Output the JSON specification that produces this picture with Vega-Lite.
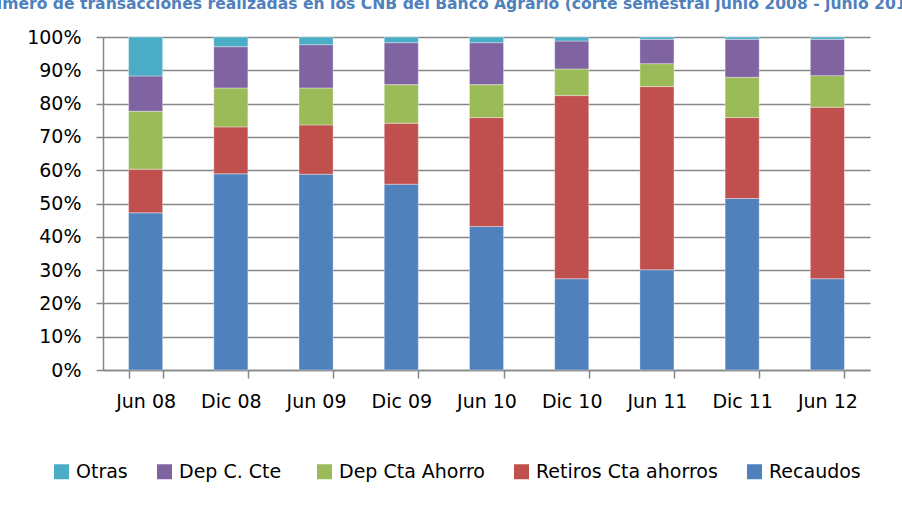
{
  "$schema": "https://vega.github.io/schema/vega-lite/v6.json",
  "autosize": {"type": "none"},
  "padding": {"left": 103, "top": 37, "right": 32, "bottom": 140},
  "width": 767,
  "height": 333,
  "background": "#ffffff",
  "title": {
    "text": "Número de transacciones realizadas en los CNB del Banco Agrario (corte semestral junio 2008 - junio 2012)",
    "anchor": "start",
    "frame": "group",
    "dx": -125,
    "offset": 0,
    "baseline": "bottom",
    "font": "DejaVu Sans",
    "fontSize": 15.6,
    "fontWeight": "bold",
    "color": "#4F81BD"
  },
  "data": {
    "values": [
      {"periodo": "Jun 08", "serie": "Recaudos", "valor": 47.2},
      {"periodo": "Jun 08", "serie": "Retiros Cta ahorros", "valor": 13.1},
      {"periodo": "Jun 08", "serie": "Dep Cta Ahorro", "valor": 17.4},
      {"periodo": "Jun 08", "serie": "Dep  C. Cte", "valor": 10.6},
      {"periodo": "Jun 08", "serie": "Otras", "valor": 11.7},
      {"periodo": "Dic 08", "serie": "Recaudos", "valor": 58.9},
      {"periodo": "Dic 08", "serie": "Retiros Cta ahorros", "valor": 14.1},
      {"periodo": "Dic 08", "serie": "Dep Cta Ahorro", "valor": 11.7},
      {"periodo": "Dic 08", "serie": "Dep  C. Cte", "valor": 12.4},
      {"periodo": "Dic 08", "serie": "Otras", "valor": 2.9},
      {"periodo": "Jun 09", "serie": "Recaudos", "valor": 58.8},
      {"periodo": "Jun 09", "serie": "Retiros Cta ahorros", "valor": 14.8},
      {"periodo": "Jun 09", "serie": "Dep Cta Ahorro", "valor": 11.1},
      {"periodo": "Jun 09", "serie": "Dep  C. Cte", "valor": 13.0},
      {"periodo": "Jun 09", "serie": "Otras", "valor": 2.3},
      {"periodo": "Dic 09", "serie": "Recaudos", "valor": 55.8},
      {"periodo": "Dic 09", "serie": "Retiros Cta ahorros", "valor": 18.3},
      {"periodo": "Dic 09", "serie": "Dep Cta Ahorro", "valor": 11.6},
      {"periodo": "Dic 09", "serie": "Dep  C. Cte", "valor": 12.6},
      {"periodo": "Dic 09", "serie": "Otras", "valor": 1.7},
      {"periodo": "Jun 10", "serie": "Recaudos", "valor": 43.1},
      {"periodo": "Jun 10", "serie": "Retiros Cta ahorros", "valor": 32.7},
      {"periodo": "Jun 10", "serie": "Dep Cta Ahorro", "valor": 9.9},
      {"periodo": "Jun 10", "serie": "Dep  C. Cte", "valor": 12.6},
      {"periodo": "Jun 10", "serie": "Otras", "valor": 1.7},
      {"periodo": "Dic 10", "serie": "Recaudos", "valor": 27.4},
      {"periodo": "Dic 10", "serie": "Retiros Cta ahorros", "valor": 55.0},
      {"periodo": "Dic 10", "serie": "Dep Cta Ahorro", "valor": 8.0},
      {"periodo": "Dic 10", "serie": "Dep  C. Cte", "valor": 8.4},
      {"periodo": "Dic 10", "serie": "Otras", "valor": 1.2},
      {"periodo": "Jun 11", "serie": "Recaudos", "valor": 30.1},
      {"periodo": "Jun 11", "serie": "Retiros Cta ahorros", "valor": 55.0},
      {"periodo": "Jun 11", "serie": "Dep Cta Ahorro", "valor": 6.9},
      {"periodo": "Jun 11", "serie": "Dep  C. Cte", "valor": 7.3},
      {"periodo": "Jun 11", "serie": "Otras", "valor": 0.7},
      {"periodo": "Dic 11", "serie": "Recaudos", "valor": 51.5},
      {"periodo": "Dic 11", "serie": "Retiros Cta ahorros", "valor": 24.3},
      {"periodo": "Dic 11", "serie": "Dep Cta Ahorro", "valor": 12.1},
      {"periodo": "Dic 11", "serie": "Dep  C. Cte", "valor": 11.4},
      {"periodo": "Dic 11", "serie": "Otras", "valor": 0.7},
      {"periodo": "Jun 12", "serie": "Recaudos", "valor": 27.4},
      {"periodo": "Jun 12", "serie": "Retiros Cta ahorros", "valor": 51.5},
      {"periodo": "Jun 12", "serie": "Dep Cta Ahorro", "valor": 9.5},
      {"periodo": "Jun 12", "serie": "Dep  C. Cte", "valor": 10.9},
      {"periodo": "Jun 12", "serie": "Otras", "valor": 0.7}
    ]
  },
  "transform": [
    {"calculate": "indexof(['Recaudos','Retiros Cta ahorros','Dep Cta Ahorro','Dep  C. Cte','Otras'], datum.serie)", "as": "orden"}
  ],
  "mark": {"type": "bar", "stroke": "#ffffff", "strokeWidth": 0.6, "strokeOpacity": 0.6},
  "encoding": {
    "x": {
      "field": "periodo",
      "type": "nominal",
      "sort": ["Jun 08", "Dic 08", "Jun 09", "Dic 09", "Jun 10", "Dic 10", "Jun 11", "Dic 11", "Jun 12"],
      "scale": {"paddingInner": 0.6, "paddingOuter": 0.3},
      "axis": {
        "title": null,
        "labelAngle": 0,
        "labelFontSize": 19,
        "labelColor": "#000000",
        "labelPadding": 14,
        "tickBand": "extent",
        "tickSize": 8,
        "tickColor": "#868686",
        "tickWidth": 1.5,
        "domainColor": "#868686",
        "domainWidth": 1.5,
        "grid": false
      }
    },
    "y": {
      "field": "valor",
      "type": "quantitative",
      "stack": "normalize",
      "scale": {"domain": [0, 1], "nice": false},
      "axis": {
        "title": null,
        "values": [0, 0.1, 0.2, 0.3, 0.4, 0.5, 0.6, 0.7, 0.8, 0.9, 1],
        "format": ".0%",
        "labelFontSize": 19,
        "labelColor": "#000000",
        "labelPadding": 15,
        "tickSize": 7,
        "tickColor": "#868686",
        "tickWidth": 1.5,
        "domainColor": "#868686",
        "domainWidth": 1.5,
        "grid": true,
        "gridColor": "#868686",
        "gridWidth": 1.5
      }
    },
    "color": {
      "field": "serie",
      "type": "nominal",
      "scale": {
        "domain": ["Otras", "Dep  C. Cte", "Dep Cta Ahorro", "Retiros Cta ahorros", "Recaudos"],
        "range": ["#4BACC6", "#8064A2", "#9BBB59", "#C0504D", "#4F81BD"]
      },
      "legend": {
        "title": null,
        "orient": "none",
        "legendX": -51,
        "legendY": 425,
        "direction": "horizontal",
        "columns": 5,
        "columnPadding": 27,
        "symbolType": "square",
        "symbolSize": 225,
        "symbolStrokeWidth": 0,
        "labelFontSize": 19,
        "labelColor": "#000000",
        "labelOffset": 5,
        "labelLimit": 400
      }
    },
    "order": {"field": "orden", "type": "quantitative", "sort": "ascending"}
  },
  "config": {
    "font": "DejaVu Sans",
    "view": {"stroke": null}
  }
}
